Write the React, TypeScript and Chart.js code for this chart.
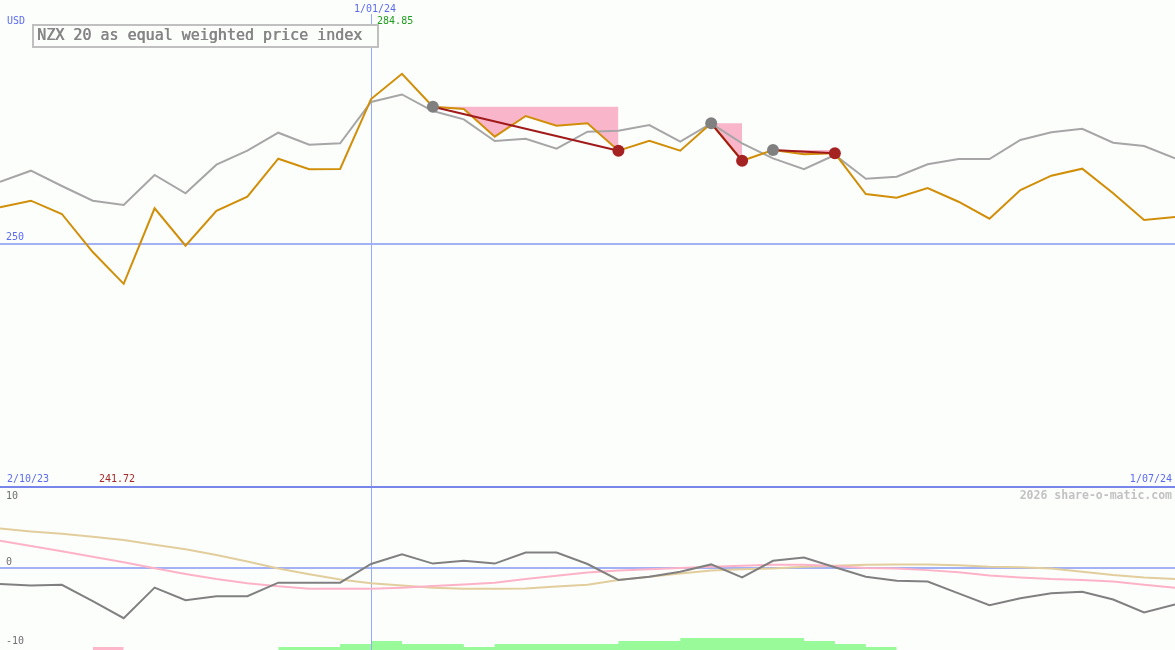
import { useEffect, useRef } from "react";
import { Chart, registerables } from "chart.js";

Chart.register(...registerables);

// ---- texts / tick labels ----
const currencyLabel = "USD";
const titleText = "NZX 20 as equal weighted price index";
const startDateLabel = "2/10/23";
const markerDateLabel = "1/01/24";
const endDateLabel = "1/07/24";
const maxPriceLabel = "284.85";
const minPriceLabel = "241.72";
const watermarkText = "2026 share-o-matic.com";
const lowerTickLabels = ["10", "0", "-10"];
const referencePrice = 250;
const markerIndex = 12;

// ---- categories (weekly points) ----
const weeks = Array.from({ length: 39 }, (_, i) => String(i));

// ---- price series (orange) ----
const price = [
  257.43, 258.79, 256.06, 248.25, 241.72, 257.23, 249.55, 256.73, 259.61, 267.41,
  265.24, 265.3, 279.67, 284.85, 278.09, 277.62, 271.93, 276.18, 274.19, 274.68,
  269.06, 271.11, 269.06, 274.68, 267.0, 269.2, 268.32, 268.52, 260.16, 259.4,
  261.4, 258.58, 255.09, 260.99, 263.92, 265.36, 260.31, 254.83, 255.44,
];

// ---- benchmark series (grey) ----
const benchmark = [
  262.69, 264.95, 261.81, 258.79, 257.91, 264.07, 260.31, 266.18, 269.06, 272.75,
  270.29, 270.57, 279.06, 280.6, 277.2, 275.5, 271.05, 271.52, 269.47, 272.96,
  273.16, 274.33, 270.9, 274.68, 270.57, 267.49, 265.24, 268.17, 263.31, 263.72,
  266.26, 267.35, 267.35, 271.25, 272.83, 273.57, 270.7, 270.02, 267.49,
];

// ---- lower panel series ----
const oscillator = [
  -1.9, -2.1, -2.0, -4.0, -6.1, -2.35, -3.9, -3.4, -3.4, -1.74,
  -1.74, -1.74, 0.55, 1.75, 0.6, 0.95, 0.6, 1.95, 1.95, 0.55,
  -1.4, -1.0, -0.4, 0.5, -1.1, 0.95, 1.35, 0.15, -1.0, -1.5,
  -1.6, -3.05, -4.5, -3.65, -3.05, -2.85, -3.8, -5.4, -4.4,
];
const fastAverage = [
  3.41, 2.76, 2.11, 1.45, 0.76, 0.02, -0.67, -1.29, -1.82, -2.19,
  -2.47, -2.5, -2.5, -2.35, -2.15, -1.95, -1.75, -1.3, -0.9, -0.5,
  -0.25, -0.1, 0.05, 0.2, 0.35, 0.45, 0.45, 0.3, 0.05, 0.0,
  -0.2, -0.45, -0.85, -1.1, -1.3, -1.4, -1.6, -2.0, -2.35,
];
const slowAverage = [
  4.9, 4.55, 4.25, 3.9, 3.5, 2.9, 2.35, 1.65, 0.85, 0.0,
  -0.7, -1.35, -1.8, -2.1, -2.35, -2.5, -2.5, -2.45, -2.2, -2.0,
  -1.4, -1.0, -0.6, -0.25, -0.1, 0.0, 0.2, 0.35, 0.45, 0.5,
  0.5, 0.4, 0.2, 0.15, 0.0, -0.4, -0.8, -1.1, -1.3,
];
const strengthUp = [
  null, null, null, null, null, null, null, null, null, 1,
  1, 2, 3, 2, 2, 1, 2, 2, 2, 2,
  3, 3, 4, 4, 4, 4, 3, 2, 1, 0,
  null, null, null, null, null, null, null, null, null,
];
const strengthDown = [
  null, null, null, 1, 0, null, null, null, null, null,
  null, null, null, null, null, null, null, null, null, null,
  null, null, null, null, null, null, null, null, null, null,
  null, null, null, null, null, null, null, null, null,
];

// ---- trade signals (start index / end index) ----
const signalStarts = [14, 23, 25];
const signalEnds = [20, 24, 27];

const BG = "#fcfefc";
const MONO = "'DejaVu Sans Mono', 'Liberation Mono', monospace";

export default function App() {
  const canvasRef = useRef<HTMLCanvasElement | null>(null);

  useEffect(() => {
    const canvas = canvasRef.current;
    if (!canvas) return;

    const nulls = () => weeks.map(() => null as number | null);
    const datasets: any[] = [];

    // signal lines
    signalStarts.forEach((s, k) => {
      const e = signalEnds[k];
      const d = nulls();
      d[s] = price[s];
      d[e] = price[e];
      datasets.push({
        type: "line",
        data: d,
        yAxisID: "y",
        borderColor: "#a01a1a",
        borderWidth: 2,
        spanGaps: true,
        pointRadius: (c: any) => (c.raw == null ? 0 : 6),
        pointBackgroundColor: (c: any) => (c.dataIndex === s ? "#808080" : "#a52222"),
        pointBorderWidth: 0,
        fill: false,
        order: 0,
      });
    });

    const priceIndex = datasets.length;
    datasets.push({
      type: "line",
      data: price,
      yAxisID: "y",
      borderColor: "#d18e08",
      borderWidth: 2,
      pointRadius: 0,
      fill: false,
      order: 1,
    });
    datasets.push({
      type: "line",
      data: benchmark,
      yAxisID: "y",
      borderColor: "#a6a6a6",
      borderWidth: 2,
      pointRadius: 0,
      fill: false,
      order: 2,
    });
    datasets.push({
      type: "line",
      data: oscillator,
      yAxisID: "y2",
      borderColor: "#808080",
      borderWidth: 2,
      pointRadius: 0,
      fill: false,
      order: 3,
    });
    datasets.push({
      type: "line",
      data: fastAverage,
      yAxisID: "y2",
      borderColor: "#fdb2c8",
      borderWidth: 2,
      pointRadius: 0,
      fill: false,
      order: 4,
    });
    datasets.push({
      type: "line",
      data: slowAverage,
      yAxisID: "y2",
      borderColor: "#e2cd9c",
      borderWidth: 2,
      pointRadius: 0,
      fill: false,
      order: 4,
    });

    // shaded drawdown areas between the entry level and the price line
    signalStarts.forEach((s, k) => {
      const e = signalEnds[k];
      const d = nulls();
      for (let i = s; i <= e; i++) d[i] = price[s];
      datasets.push({
        type: "line",
        data: d,
        yAxisID: "y",
        borderWidth: 0,
        borderColor: "rgba(0,0,0,0)",
        pointRadius: 0,
        fill: { target: priceIndex, above: "#f9b6cb", below: "rgba(0,0,0,0)" },
        order: 5,
      });
    });

    datasets.push({
      type: "line",
      data: strengthUp,
      yAxisID: "y3",
      stepped: true,
      borderWidth: 0,
      borderColor: "rgba(0,0,0,0)",
      backgroundColor: "#98fa98",
      pointRadius: 0,
      fill: "origin",
      order: 6,
    });
    datasets.push({
      type: "line",
      data: strengthDown,
      yAxisID: "y3",
      stepped: true,
      borderWidth: 0,
      borderColor: "rgba(0,0,0,0)",
      backgroundColor: "#fdb6ca",
      pointRadius: 0,
      fill: "origin",
      order: 6,
    });

    const decor = {
      id: "decor",
      beforeDraw(chart: any) {
        const ctx = chart.ctx;
        ctx.save();
        ctx.fillStyle = BG;
        ctx.fillRect(0, 0, chart.width, chart.height);
        ctx.restore();
      },
      beforeDatasetsDraw(chart: any) {
        const ctx = chart.ctx;
        const x = chart.scales.x;
        const y = chart.scales.y;
        const y2 = chart.scales.y2;
        ctx.save();
        ctx.lineWidth = 2;
        ctx.strokeStyle = "#a3b2f4";
        const yRef = Math.round(y.getPixelForValue(referencePrice));
        ctx.beginPath();
        ctx.moveTo(0, yRef);
        ctx.lineTo(chart.width, yRef);
        ctx.stroke();
        const yZero = Math.round(y2.getPixelForValue(0));
        ctx.beginPath();
        ctx.moveTo(0, yZero);
        ctx.lineTo(chart.width, yZero);
        ctx.stroke();
        // vertical date marker
        const xm = Math.round(x.getPixelForValue(markerIndex)) + 0.5;
        ctx.lineWidth = 1;
        ctx.strokeStyle = "#97a8f8";
        ctx.beginPath();
        ctx.moveTo(xm, 14);
        ctx.lineTo(xm, chart.height);
        ctx.stroke();
        // panel separator
        const ySep = Math.round(y2.getPixelForValue(10));
        ctx.lineWidth = 2;
        ctx.strokeStyle = "#7886ec";
        ctx.beginPath();
        ctx.moveTo(0, ySep);
        ctx.lineTo(chart.width, ySep);
        ctx.stroke();
        ctx.restore();
      },
      afterDraw(chart: any) {
        const ctx = chart.ctx;
        const x = chart.scales.x;
        const y = chart.scales.y;
        const y2 = chart.scales.y2;
        const W = chart.width;
        const xm = x.getPixelForValue(markerIndex);
        const yRef = y.getPixelForValue(referencePrice);
        const ySep = y2.getPixelForValue(10);
        const yZero = y2.getPixelForValue(0);
        const yBottom = y2.getPixelForValue(-10);
        ctx.save();
        ctx.textBaseline = "middle";
        ctx.font = `10px ${MONO}`;

        ctx.fillStyle = "#5b6bf0";
        ctx.textAlign = "left";
        ctx.fillText(currencyLabel, 7, 21);
        ctx.fillText(String(referencePrice), 6, yRef - 6);
        ctx.fillText(startDateLabel, 7, ySep - 8);
        ctx.textAlign = "center";
        ctx.fillText(markerDateLabel, xm + 4, 9);
        ctx.textAlign = "right";
        ctx.fillText(endDateLabel, W - 3, ySep - 8);

        ctx.textAlign = "left";
        ctx.fillStyle = "#1e9e1e";
        ctx.fillText(maxPriceLabel, xm + 6, 21);
        ctx.fillStyle = "#a82828";
        ctx.fillText(minPriceLabel, 99, ySep - 8);

        ctx.fillStyle = "#6e6e6e";
        ctx.fillText(lowerTickLabels[0], 6, ySep + 9);
        ctx.fillText(lowerTickLabels[1], 6, yZero - 6);
        ctx.fillText(lowerTickLabels[2], 6, yBottom - 9);

        ctx.font = `bold 11.5px ${MONO}`;
        ctx.fillStyle = "#c2c2c2";
        ctx.textAlign = "right";
        ctx.fillText(watermarkText, W - 3, ySep + 9);

        // title box
        ctx.fillStyle = BG;
        ctx.fillRect(33, 25, 345, 22);
        ctx.strokeStyle = "#c0c0c0";
        ctx.lineWidth = 2;
        ctx.strokeRect(33, 25, 345, 22);
        ctx.font = `15px ${MONO}`;
        ctx.fillStyle = "#858585";
        ctx.textAlign = "left";
        ctx.fillText(titleText, 37, 36.5);
        ctx.fillText(titleText, 37.6, 36.5);
        ctx.restore();
      },
    };

    const chart = new Chart(canvas, {
      type: "line",
      data: { labels: weeks, datasets },
      options: {
        animation: false,
        responsive: false,
        events: [],
        layout: { padding: 0 },
        elements: { line: { tension: 0 } },
        plugins: {
          legend: { display: false },
          tooltip: { enabled: false },
          filler: { drawTime: "beforeDatasetsDraw" },
        },
        scales: {
          x: { display: false, offset: false },
          y: { display: false, min: 166.53, max: 300 },
          y2: { display: false, min: -10, max: 69.75 },
          y3: { display: false, min: 0, max: 216.67 },
        },
      },
      plugins: [decor],
    } as any);

    return () => chart.destroy();
  }, []);

  return (
    <div style={{ position: "absolute", left: 0, top: 0, width: 1175, height: 650 }}>
      <canvas ref={canvasRef} width={1175} height={650} style={{ display: "block", width: 1175, height: 650 }} />
    </div>
  );
}
